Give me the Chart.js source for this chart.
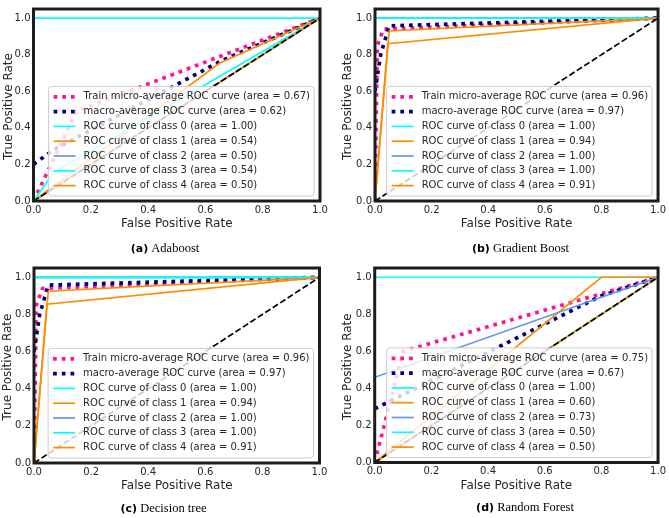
<!DOCTYPE html>
<html>
<head>
<meta charset="utf-8">
<script src="https://cdn.jsdelivr.net/npm/chart.js@4.4.0/dist/chart.umd.min.js"></script>
<style>
  body { margin: 0; background: #fff; }
  #wrap { position: relative; width: 669px; height: 518px; }
  canvas { position: absolute; }
</style>
</head>
<body>
<div id="wrap">
  <canvas id="pa" width="335" height="259" style="left:0;top:0"></canvas>
  <canvas id="pb" width="335" height="259" style="left:334px;top:0"></canvas>
  <canvas id="pc" width="335" height="259" style="left:0;top:259px"></canvas>
  <canvas id="pd" width="335" height="259" style="left:334px;top:259px"></canvas>
</div>
<script>
// shared axis ticks and reference diagonal
const tickValues = [0, 0.2, 0.4, 0.6, 0.8, 1.0];
const diagonal = [[0, 0], [1, 1]];

const curveNames = [
    'Train micro-average ROC curve',
    'macro-average ROC curve',
    'ROC curve of class 0',
    'ROC curve of class 1',
    'ROC curve of class 2',
    'ROC curve of class 3',
    'ROC curve of class 4'
];

// (a) Adaboost
const adaMicro  = [[0, 0], [0.15, 0.49], [1, 1]];
const adaMacro  = [[0, 0.2], [0.07, 0.28], [0.66, 0.77], [1, 1]];
const adaClass0 = [[0, 0], [0, 1], [1, 1]];
const adaClass1 = [[0, 0], [0.65, 0.755], [1, 1]];
const adaClass2 = [[0, 0], [1, 1]];
const adaClass3 = [[0, 0], [0.07, 0.155], [1, 1]];
const adaClass4 = [[0, 0], [1, 1]];
const adaAreas  = ['0.67', '0.62', '1.00', '0.54', '0.50', '0.54', '0.50'];

// (b) Gradient Boost
const gbMicro  = [[0, 0], [0.008, 0.85], [0.03, 0.94], [1, 1]];
const gbMacro  = [[0, 0.6], [0.02, 0.8], [0.05, 0.958], [1, 1]];
const gbClass0 = [[0, 0], [0, 1], [1, 1]];
const gbClass1 = [[0, 0], [0.05, 0.93], [1, 1]];
const gbClass2 = [[0, 0], [0, 1], [1, 1]];
const gbClass3 = [[0, 0], [0, 1], [1, 1]];
const gbClass4 = [[0, 0], [0.045, 0.86], [1, 1]];
const gbAreas  = ['0.96', '0.97', '1.00', '0.94', '1.00', '1.00', '0.91'];

// (c) Decision tree
const dtMicro  = [[0, 0], [0.008, 0.85], [0.03, 0.94], [1, 1]];
const dtMacro  = [[0, 0.6], [0.02, 0.8], [0.05, 0.958], [1, 1]];
const dtClass0 = [[0, 0], [0, 1], [1, 1]];
const dtClass1 = [[0, 0], [0.05, 0.925], [1, 1]];
const dtClass2 = [[0, 0], [0, 1], [1, 1]];
const dtClass3 = [[0, 0], [0, 1], [1, 1]];
const dtClass4 = [[0, 0], [0.045, 0.855], [1, 1]];
const dtAreas  = ['0.96', '0.97', '1.00', '0.94', '1.00', '1.00', '0.91'];

// (d) Random Forest
const rfMicro  = [[0, 0], [0.1, 0.6], [1, 1]];
const rfMacro  = [[0, 0.29], [0.8, 0.9], [1, 1]];
const rfClass0 = [[0, 0], [0, 1], [1, 1]];
const rfClass1 = [[0, 0], [0.8, 1], [1, 1]];
const rfClass2 = [[0, 0], [0, 0.46], [1, 1]];
const rfClass3 = [[0, 0], [1, 1]];
const rfClass4 = [[0, 0], [1, 1]];
const rfAreas  = ['0.75', '0.67', '1.00', '0.60', '0.73', '0.50', '0.50'];

// matplotlib-like line styles
const dotted = [3.7, 5.0];
const curveStyles = [
    { color: '#ff1493', width: 3.7, dash: dotted },
    { color: '#000080', width: 3.7, dash: dotted },
    { color: '#00ffff', width: 1.7, dash: [] },
    { color: '#ff8c00', width: 1.7, dash: [] },
    { color: '#6495ed', width: 1.7, dash: [] },
    { color: '#00ffff', width: 1.7, dash: [] },
    { color: '#ff8c00', width: 1.7, dash: [] }
];
const textColor = '#262626';
const FONT = '"DejaVu Sans", sans-serif';

const panels = [
    { id: 'pa', tag: '(a)', name: 'Adaboost', areas: adaAreas,
      series: [adaMicro, adaMacro, adaClass0, adaClass1, adaClass2, adaClass3, adaClass4],
      box: { left: 33.5, right: 320, top: 2.5, bottom: 201 },
      yTitleX: 12, xTitleY: 227, capX: 165, capY: 252 },
    { id: 'pb', tag: '(b)', name: 'Gradient Boost', areas: gbAreas,
      series: [gbMicro, gbMacro, gbClass0, gbClass1, gbClass2, gbClass3, gbClass4],
      box: { left: 41, right: 326, top: 2.5, bottom: 201 },
      yTitleX: 17, xTitleY: 227, capX: 186.5, capY: 252 },
    { id: 'pc', tag: '(c)', name: 'Decision tree', areas: dtAreas,
      series: [dtMicro, dtMacro, dtClass0, dtClass1, dtClass2, dtClass3, dtClass4],
      box: { left: 34, right: 319.5, top: 4.5, bottom: 204 },
      yTitleX: 10.5, xTitleY: 229.5, capX: 163.5, capY: 252.5 },
    { id: 'pd', tag: '(d)', name: 'Random Forest', areas: rfAreas,
      series: [rfMicro, rfMacro, rfClass0, rfClass1, rfClass2, rfClass3, rfClass4],
      box: { left: 40.7, right: 325, top: 4.5, bottom: 203.5 },
      yTitleX: 17, xTitleY: 229.5, capX: 191, capY: 252 }
];

const toPoints = arr => arr.map(([x, y]) => ({ x, y }));

// frame, legend, axis titles and caption
function makeDecor(p) {
    return {
        id: 'decor',
        afterDatasetsDraw(chart) {
            const ctx = chart.ctx, a = chart.chartArea;
            ctx.save();
            ctx.strokeStyle = '#1c1c1c';
            ctx.lineWidth = 3;
            ctx.strokeRect(a.left, a.top, a.right - a.left, a.bottom - a.top);

            ctx.font = '10px ' + FONT;
            const labels = curveNames.map((n, i) => n + ' (area = ' + p.areas[i] + ')');
            const textW = Math.max(...labels.map(t => ctx.measureText(t).width));
            const rowH = 14.8;
            const w = textW + 39, h = rowH * labels.length + 6;
            const x = a.right - 6 - w, y = a.bottom - 5 - h;
            ctx.beginPath();
            ctx.roundRect(x, y, w, h, 3);
            ctx.fillStyle = 'rgba(255,255,255,0.8)';
            ctx.fill();
            ctx.strokeStyle = '#cccccc';
            ctx.lineWidth = 1;
            ctx.stroke();
            labels.forEach((t, i) => {
                const cy = y + 3 + rowH / 2 + i * rowH;
                const s = curveStyles[i];
                ctx.beginPath();
                ctx.setLineDash(s.dash);
                ctx.lineCap = 'butt';
                ctx.strokeStyle = s.color;
                ctx.lineWidth = s.width;
                ctx.moveTo(x + 5, cy);
                ctx.lineTo(x + 27, cy);
                ctx.stroke();
                ctx.setLineDash([]);
                ctx.fillStyle = textColor;
                ctx.textBaseline = 'middle';
                ctx.textAlign = 'left';
                ctx.fillText(t, x + 35, cy);
            });
            ctx.restore();
        },
        afterDraw(chart) {
            const ctx = chart.ctx, a = chart.chartArea;
            ctx.save();
            ctx.fillStyle = textColor;
            ctx.font = '12px ' + FONT;
            ctx.textAlign = 'center';
            ctx.textBaseline = 'alphabetic';
            ctx.fillText('False Positive Rate', (a.left + a.right) / 2, p.xTitleY);
            ctx.save();
            ctx.translate(p.yTitleX, (a.top + a.bottom) / 2 + 1.5);
            ctx.rotate(-Math.PI / 2);
            ctx.fillText('True Positive Rate', 0, 0);
            ctx.restore();

            ctx.fillStyle = '#000';
            ctx.textAlign = 'left';
            ctx.font = 'bold 11px ' + FONT;
            const w1 = ctx.measureText(p.tag).width;
            ctx.font = '12.5px "Liberation Serif", serif';
            const w2 = ctx.measureText(' ' + p.name).width;
            const sx = p.capX - (w1 + w2) / 2;
            ctx.font = 'bold 11px ' + FONT;
            ctx.fillText(p.tag, sx, p.capY);
            ctx.font = '12.5px "Liberation Serif", serif';
            ctx.fillText(' ' + p.name, sx + w1, p.capY);
            ctx.restore();
        }
    };
}

function axisOptions(max, fit) {
    return {
        type: 'linear',
        min: 0,
        max: max,
        grid: { display: false, drawTicks: false },
        border: { display: false },
        ticks: {
            color: textColor,
            padding: 3,
            font: { family: 'DejaVu Sans', size: 10 },
            callback: v => Number(v).toFixed(1)
        },
        afterBuildTicks: s => { s.ticks = tickValues.map(v => ({ value: v })); },
        afterFit: fit
    };
}

panels.forEach(p => {
    const canvas = document.getElementById(p.id);
    const datasets = p.series.map((pts, i) => ({
        data: toPoints(pts),
        borderColor: curveStyles[i].color,
        borderWidth: curveStyles[i].width,
        borderDash: curveStyles[i].dash,
        borderCapStyle: 'butt',
        pointRadius: 0,
        tension: 0,
        fill: false,
        order: 8 - i
    }));
    datasets.push({
        data: toPoints(diagonal),
        borderColor: '#000',
        borderWidth: 1.7,
        borderDash: [6.2, 2.7],
        borderCapStyle: 'butt',
        pointRadius: 0,
        fill: false,
        order: 0
    });

    new Chart(canvas, {
        type: 'line',
        data: { datasets },
        options: {
            responsive: false,
            animation: false,
            events: [],
            layout: { padding: { left: 0, top: p.box.top, right: canvas.width - p.box.right, bottom: 0 } },
            plugins: { legend: { display: false }, tooltip: { enabled: false } },
            scales: {
                x: axisOptions(1, s => { s.height = canvas.height - p.box.bottom; }),
                y: axisOptions(1.05, s => { s.width = p.box.left; })
            }
        },
        plugins: [makeDecor(p)]
    });
});
</script>
</body>
</html>
